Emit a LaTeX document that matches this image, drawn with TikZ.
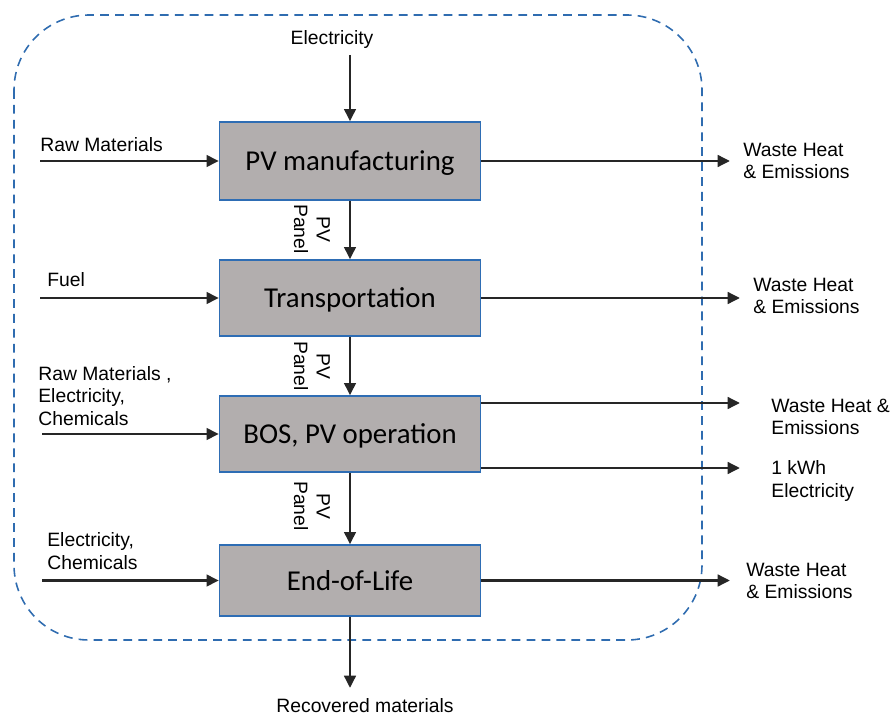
\documentclass[tikz,border=0pt]{standalone}
\usepackage{fontspec}
\setmainfont{Liberation Sans}
\newfontfamily\boxfont{Carlito}
\usepackage{tikz}
\usetikzlibrary{arrows.meta, positioning}

\definecolor{stagebg}{HTML}{B2AEAE}
\definecolor{stageborder}{HTML}{2E6DB4}
\definecolor{boundary}{HTML}{2F6CB0}

\tikzset{
  stage/.style={draw=stageborder, fill=stagebg, line width=0.8pt, minimum width=5.22cm, text depth=0pt, font=\boxfont\fontsize{16.4}{19}\selectfont},
  flow/.style={->, line width=1.7pt, draw=black!85},
  lbl/.style={font=\fontsize{11}{12.8}\selectfont, align=left, inner sep=0pt},
  panel/.style={lbl, rotate=-90, align=center}
}

\begin{document}
\begin{tikzpicture}[x=0.02cm, y=-0.02cm, >={Triangle[length=7pt, width=6.5pt]}]
      \useasboundingbox (0,0) rectangle (892,716);
      \draw[boundary, line width=0.9pt, dash pattern=on 5pt off 3.5pt, rounded corners=1.5cm] (14,15) rectangle (702,640);

      \node[stage, minimum height=1.56cm] (mfg) at (350,161) {PV manufacturing};
      \node[stage, minimum height=1.52cm] (trans) at (350,298) {Transportation};
      \node[stage, minimum height=1.52cm] (bos) at (350,434) {BOS, PV operation};
      \node[stage, minimum height=1.42cm] (eol) at (350,580.5) {End-of-Life};

      \draw[flow] (mfg) -- (trans);
      \node[panel] (panelA) at (312,229) {PV\\Panel};
      \draw[flow] (trans) -- (bos);
      \node[panel] (panelB) at (312,366) {PV\\Panel};
      \draw[flow] (bos) -- (eol);
      \node[panel] (panelC) at (312,506) {PV\\Panel};

      % inputs
      \node[lbl] (elec) at (332,40) {Electricity};
      \coordinate (elecin) at (350,55);
      \draw[flow] (elecin) -- (mfg);
      \node[lbl, anchor=west] (rawA) at (40,145) {Raw Materials};
      \coordinate (rawAin) at (40,161);
      \draw[flow] (rawAin) -- (mfg.west);
      \node[lbl, anchor=west] (fuel) at (47,280) {Fuel};
      \coordinate (fuelin) at (40,298);
      \draw[flow] (fuelin) -- (trans.west);
      \node[lbl, anchor=west] (rawB) at (38,396) {Raw Materials ,\\Electricity,\\Chemicals};
      \coordinate (rawBin) at (42,434);
      \draw[flow] (rawBin) -- (bos.west);
      \node[lbl, anchor=west] (chem) at (47,551) {Electricity,\\Chemicals};
      \coordinate (chemin) at (42,580.5);
      \draw[flow] (chemin) -- (eol.west);

      % outputs
      \coordinate (wasteA) at (730,161);
      \draw[flow] (mfg.east) -- (wasteA);
      \node[lbl, anchor=west] (wasteAlbl) at (743,161) {Waste Heat\\\& Emissions};
      \coordinate (wasteB) at (740,298);
      \draw[flow] (trans.east) -- (wasteB);
      \node[lbl, anchor=west] (wasteBlbl) at (753,296) {Waste Heat\\\& Emissions};
      \coordinate (wasteC) at (740,403);
      \draw[flow] (bos.east |- wasteC) -- (wasteC);
      \node[lbl, anchor=west] (wasteClbl) at (771,417) {Waste Heat \&\\Emissions};
      \coordinate (kwh) at (740,468);
      \draw[flow] (bos.east |- kwh) -- (kwh);
      \node[lbl, anchor=west] (kwhlbl) at (771,481) {1 kWh\\Electricity};
      \coordinate (wasteD) at (730,580.5);
      \draw[flow] (eol.east) -- (wasteD);
      \node[lbl, anchor=west] (wasteDlbl) at (746,581) {Waste Heat\\\& Emissions};
      \coordinate (recov) at (350,688);
      \draw[flow] (eol) -- (recov);
      \node[lbl] (recovlbl) at (365,706) {Recovered materials};
    \end{tikzpicture}
\end{document}
